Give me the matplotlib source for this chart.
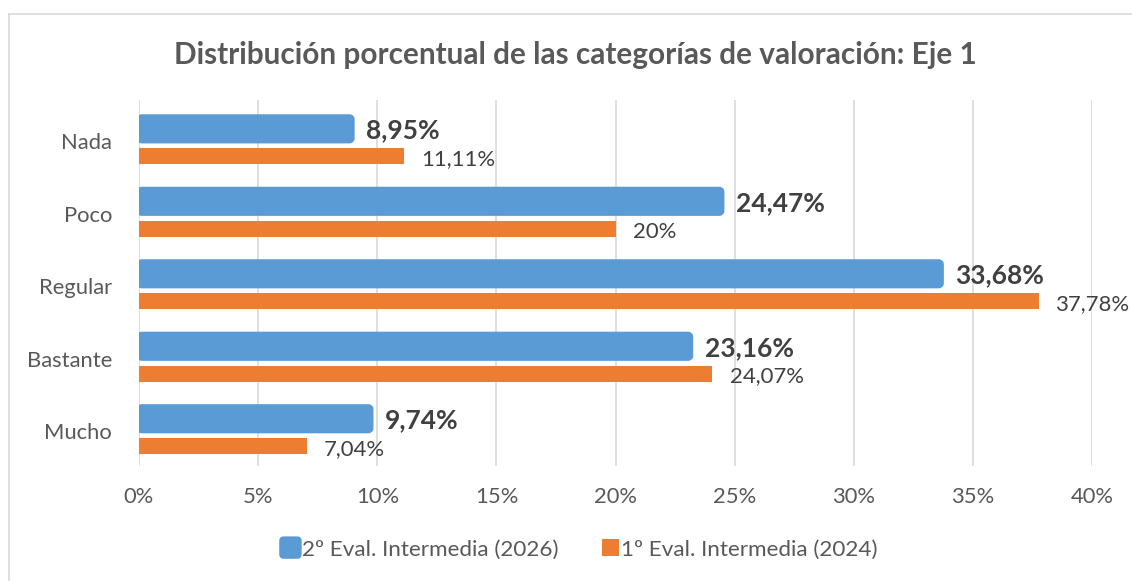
import matplotlib
matplotlib.use("Agg")
import matplotlib.pyplot as plt
from matplotlib.patches import FancyBboxPatch, Rectangle
from matplotlib.lines import Line2D
from matplotlib.legend_handler import HandlerPatch
import numpy as np

categories = ["Nada", "Poco", "Regular", "Bastante", "Mucho"]
eval_2026 = [8.95, 24.47, 33.68, 23.16, 9.74]
eval_2024 = [11.11, 20.0, 37.78, 24.07, 7.04]
labels_2026 = ["8,95%", "24,47%", "33,68%", "23,16%", "9,74%"]
labels_2024 = ["11,11%", "20%", "37,78%", "24,07%", "7,04%"]
series_names = ["2º Eval. Intermedia (2026)", "1º Eval. Intermedia (2024)"]
xticks = [0, 5, 10, 15, 20, 25, 30, 35, 40]
xtick_labels = ["0%", "5%", "10%", "15%", "20%", "25%", "30%", "35%", "40%"]

BLUE = "#5B9BD5"
ORANGE = "#ED7D31"
TXT = "#595959"
DARK = "#404040"
FONT = "Lato"

plt.rcParams['font.family'] = [FONT, 'DejaVu Sans']

fig = plt.figure(figsize=(11.32, 5.81), dpi=100)
ax = fig.add_axes([139/1132, 1 - 466/581, (1092-139)/1132, (466-100)/581])

y = np.arange(len(categories))
off_b, h_b = -0.172, 0.335
off_o, h_o = 0.207, 0.22

bars_b = ax.barh(y + off_b, eval_2026, height=h_b, color=BLUE, alpha=0)
bars_o = ax.barh(y + off_o, eval_2024, height=h_o, color=ORANGE, zorder=3)

# rounded blue bars (with outline) using bar geometry
for b in bars_b:
    x0, y0 = b.get_x(), b.get_y()
    w, hh = b.get_width(), b.get_height()
    p = FancyBboxPatch((x0, y0), w, hh,
                       boxstyle="round,pad=0,rounding_size=0.12",
                       mutation_aspect=0.29,
                       facecolor=BLUE, edgecolor=BLUE, linewidth=3.5,
                       joinstyle="round", zorder=3)
    ax.add_patch(p)

for yi, v, lab in zip(y, eval_2026, labels_2026):
    ax.annotate(lab, (v, yi + off_b), xytext=(10, -1), textcoords="offset points",
                ha="left", va="center", fontsize=19, fontweight="bold", color=DARK)
for yi, v, lab in zip(y, eval_2024, labels_2024):
    ax.annotate(lab, (v, yi + off_o), xytext=(12.5, -2), textcoords="offset points",
                ha="left", va="center", fontsize=15.9, color=DARK)

ax.set_xlim(0, 40)
ax.set_ylim(4.48, -0.57)
ax.set_xticks(xticks)
ax.set_xticklabels(xtick_labels, fontsize=15.8, color=TXT)
ax.set_yticks(y)
ax.set_yticklabels(categories, fontsize=15.8, color=TXT)
ax.tick_params(axis="both", length=0)
ax.tick_params(axis="y", pad=19.5)
ax.tick_params(axis="x", pad=15)
ax.grid(axis="x", color="#D9D9D9", linewidth=1.2, zorder=0)
ax.set_axisbelow(True)
for s in ax.spines.values():
    s.set_visible(False)

fig.text(575/1132, 1 - 55/581, "Distribución porcentual de las categorías de valoración: Eje 1",
         ha="center", va="center", fontsize=21.4, fontweight="bold", color=TXT)


# legend
class RoundHandler(HandlerPatch):
    def create_artists(self, legend, orig_handle, xdescent, ydescent, width, height, fontsize, trans):
        s = height * 1.25
        p = FancyBboxPatch((-xdescent + (width - s) / 2, -ydescent + (height - s) / 2), s, s,
                           boxstyle="round,pad=0,rounding_size=%f" % (s * 0.2),
                           facecolor=orig_handle.get_facecolor(), edgecolor="none",
                           transform=trans)
        return [p]


class SquareHandler(HandlerPatch):
    def create_artists(self, legend, orig_handle, xdescent, ydescent, width, height, fontsize, trans):
        s = height * 0.95
        p = Rectangle((-xdescent + (width - s) / 2 + 1, -ydescent + (height - s) / 2), s, s,
                      facecolor=orig_handle.get_facecolor(), edgecolor="none", transform=trans)
        return [p]


h1 = Rectangle((0, 0), 1, 1, facecolor=BLUE)
h2 = Rectangle((0, 0), 1, 1, facecolor=ORANGE)
leg = fig.legend([h1, h2], series_names, loc="center", bbox_to_anchor=(579/1132, 1 - 549/581),
                 ncol=2, frameon=False, fontsize=16.2, handlelength=0.85, handleheight=0.85,
                 handletextpad=0.1, columnspacing=1.8,
                 handler_map={h1: RoundHandler(), h2: SquareHandler()})
for t in leg.get_texts():
    t.set_color(TXT)

# outer border
fig.add_artist(Line2D([9/1132, 9/1132], [0, 1 - 14/581], transform=fig.transFigure,
                      color="#D9D9D9", linewidth=1.2))
fig.add_artist(Line2D([9/1132, 1], [1 - 14/581, 1 - 14/581], transform=fig.transFigure,
                      color="#D9D9D9", linewidth=1.2))

fig.savefig("out.png", dpi=100, facecolor="white")
